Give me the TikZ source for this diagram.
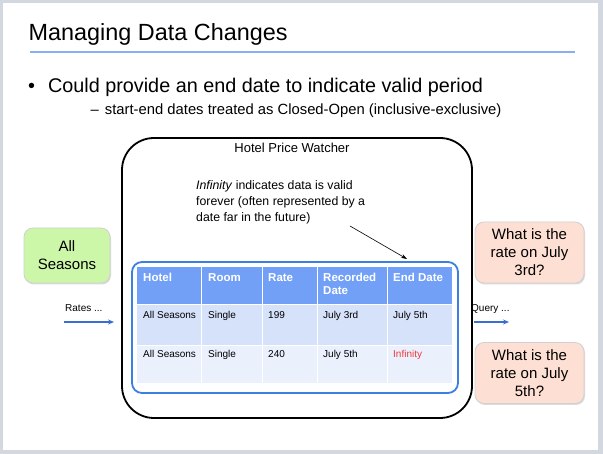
\documentclass[tikz,border=0pt]{standalone}
\usepackage{fontspec}
\setmainfont{Liberation Sans}
\usetikzlibrary{arrows.meta,shadows}
\definecolor{frame}{HTML}{D3D7DF}
\definecolor{rule}{HTML}{8AAEF0}
\definecolor{tblue}{HTML}{3B7FE3}
\definecolor{thead}{HTML}{72A0F7}
\definecolor{rowa}{HTML}{D6E1FA}
\definecolor{rowb}{HTML}{EBF0FD}
\definecolor{greenbox}{HTML}{CCF7A8}
\definecolor{pinkbox}{HTML}{FDE0D3}
\definecolor{infred}{HTML}{F03A3A}
\definecolor{arrowblue}{HTML}{3A6FD0}
\tikzset{
  callout/.style={draw=black!18, line width=0.8pt, rounded corners=9pt, align=center,
    font=\fontsize{15}{18}\selectfont, inner sep=0pt,
    drop shadow={shadow xshift=1pt, shadow yshift=-1.5pt, fill=black!35, opacity=0.4}},
  htext/.style={anchor=base west, text=white, font=\fontsize{11.5}{12.5}\selectfont\bfseries, align=left, inner sep=0pt},
  dtext/.style={anchor=base west, font=\fontsize{10}{12}\selectfont, inner sep=0pt},
  flow/.style={-{Stealth[length=6pt,width=5pt]}, draw=arrowblue, line width=1.2pt}
}
\begin{document}
\begin{tikzpicture}[x=1pt,y=-1pt]
\useasboundingbox (0,0) rectangle (603,454);
% slide frame
\fill[frame] (0,0) rectangle (603,454);
\fill[white] (3,3) rectangle (598,450);

% title and rule
\node[anchor=base west, font=\fontsize{23.4}{28}\selectfont, inner sep=0pt] (title) at (28.5,41) {Managing Data Changes};
\draw[rule, line width=1.5pt] (30,52) -- (575,52);

% bullets
\node[anchor=base west, font=\fontsize{19.8}{24}\selectfont, inner sep=0pt] (b1) at (28,92.5) {•\hspace{13pt}Could provide an end date to indicate valid period};
\node[anchor=base west, font=\fontsize{14.8}{18}\selectfont, inner sep=0pt] (b2) at (90.5,115) {–\hspace{6pt}start-end dates treated as Closed-Open (inclusive-exclusive)};

% system boundary
\draw[black, line width=1.8pt, rounded corners=32pt] (122,138) rectangle (472,418);
\node[font=\fontsize{13}{15}\selectfont, inner sep=0pt] (sys) at (292,148) {Hotel Price Watcher};

% annotation
\node[anchor=north west, align=left, font=\fontsize{12.3}{16}\selectfont, inner sep=0pt] (note) at (196,180)
  {\textit{Infinity} indicates data is valid\\forever (often represented by a\\date far in the future)};
\coordinate (nstart) at (350,226);
\coordinate (nend) at (407,259);
\draw[-{Stealth[length=6pt,width=4pt]}, line width=0.6pt] (nstart) -- (nend);

% table container
\draw[tblue, line width=1.8pt, rounded corners=10pt] (132,262) rectangle (458,393);

% table cells
\foreach \xa/\xb in {137/201, 201/262, 262/317, 317/387, 387/452}{
  \fill[thead] (\xa,267) rectangle (\xb,305);
  \fill[rowa] (\xa,305) rectangle (\xb,345);
  \fill[rowb] (\xa,345) rectangle (\xb,383);
}
\foreach \x in {201,262,317,387}{
  \draw[white, line width=0.8pt] (\x,267) -- (\x,383);
}
\draw[white, line width=1pt] (137,305) -- (452,305);
\draw[white, line width=0.8pt] (137,345) -- (452,345);

\node[htext] (h1) at (143,282) {Hotel};
\node[htext] (h2) at (208,282) {Room};
\node[htext] (h3) at (268,282) {Rate};
\node[htext] (h4) at (323,282) {Recorded};
\node[htext] (h4b) at (323,294.5) {Date};
\node[htext] (h5) at (393,282) {End Date};

\node[dtext] (a1) at (143,319) {All Seasons};
\node[dtext] (a2) at (208,319) {Single};
\node[dtext] (a3) at (268,319) {199};
\node[dtext] (a4) at (323,319) {July 3rd};
\node[dtext] (a5) at (393,319) {July 5th};

\node[dtext] (c1) at (143,358) {All Seasons};
\node[dtext] (c2) at (208,358) {Single};
\node[dtext] (c3) at (268,358) {240};
\node[dtext] (c4) at (323,358) {July 5th};
\node[dtext, text=infred] (c5) at (393,358) {Infinity};

% source
\node[callout, fill=greenbox, minimum width=86pt, minimum height=55pt] (src) at (67,255.5) {All\\Seasons};
\node[anchor=base west, font=\fontsize{10}{12}\selectfont, inner sep=0pt] (rates) at (65,312) {Rates ...};
\coordinate (r0) at (64,322);
\coordinate (r1) at (114,322);
\draw[flow] (r0) -- (r1);

% queries
\node[callout, fill=pinkbox, minimum width=109pt, minimum height=61pt] (q1) at (529.5,252.5) {What is the\\rate on July\\3rd?};
\node[callout, fill=pinkbox, minimum width=109pt, minimum height=61pt] (q2) at (529.5,373) {What is the\\rate on July\\5th?};
\node[anchor=base west, font=\fontsize{10}{12}\selectfont, inner sep=0pt] (query) at (471,312) {Query ...};
\coordinate (s0) at (474,322);
\coordinate (s1) at (509,322);
\draw[flow] (s0) -- (s1);
\end{tikzpicture}
\end{document}
